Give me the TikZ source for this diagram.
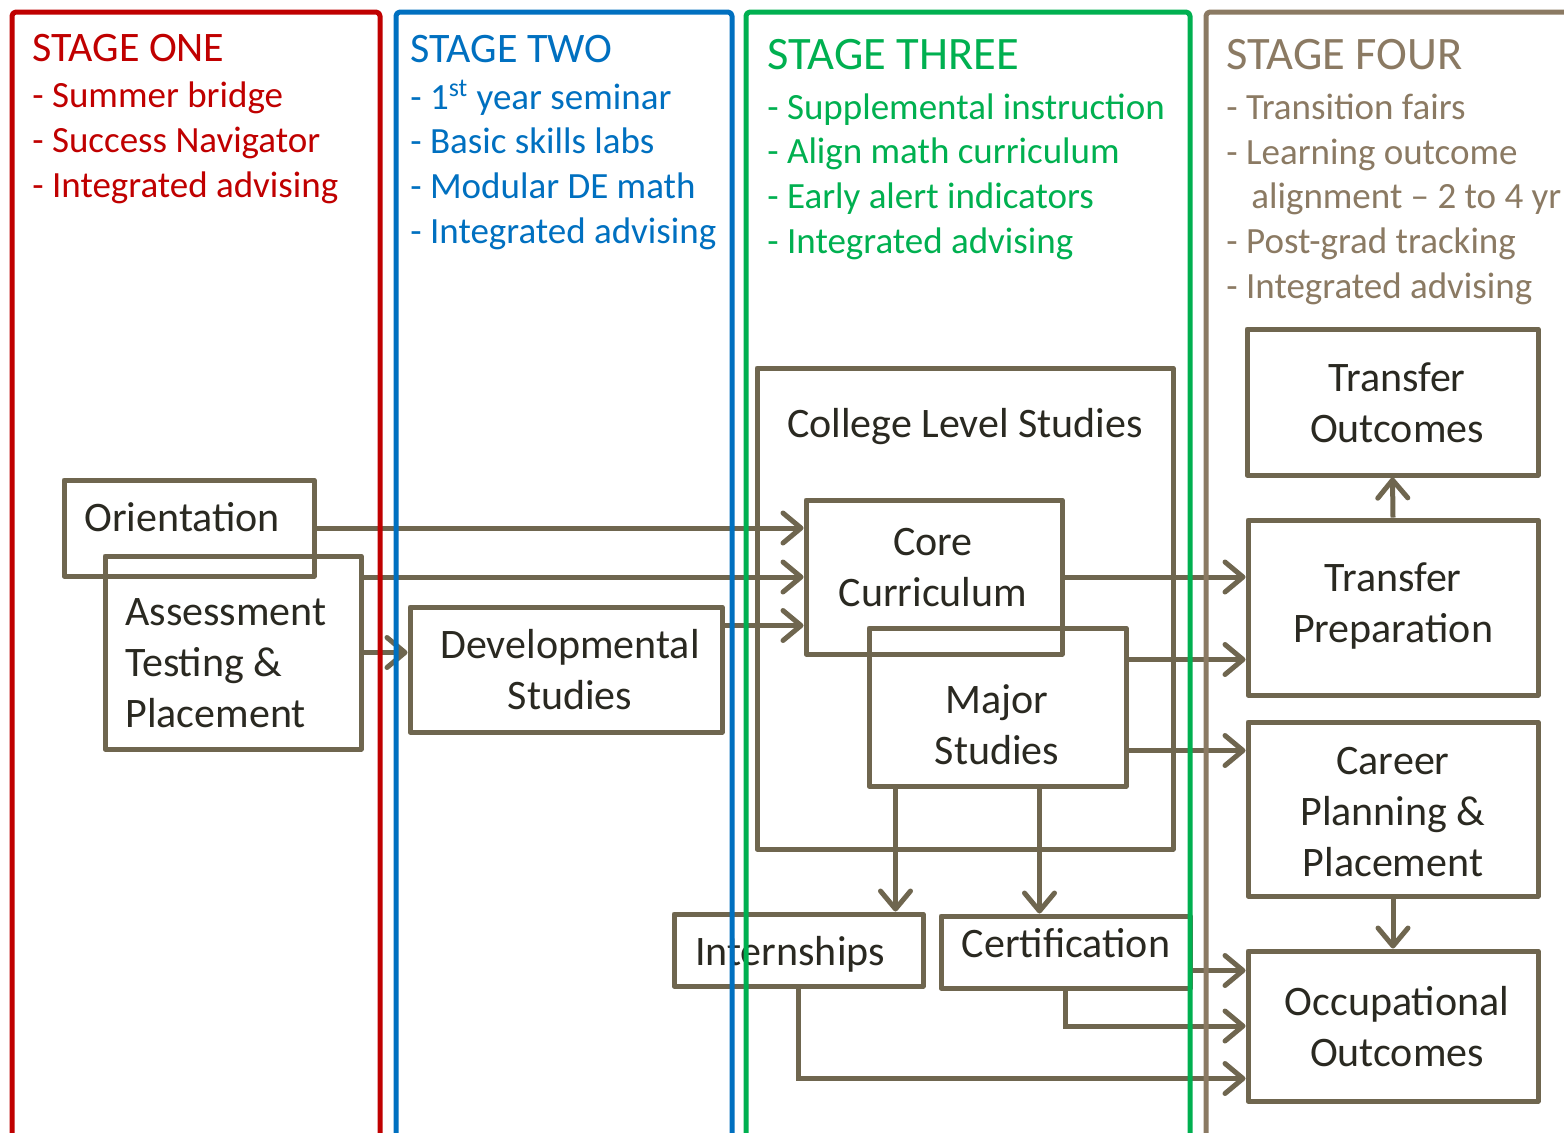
\documentclass[tikz,border=0pt]{standalone}
\usepackage{fontspec}
\setmainfont{Carlito}
\usetikzlibrary{arrows.meta,calc,fit}
\definecolor{redS}{HTML}{C00000}
\definecolor{blueS}{HTML}{0070C0}
\definecolor{greenS}{HTML}{00B050}
\definecolor{tanS}{HTML}{8B7A63}
\definecolor{boxc}{HTML}{6F664F}
\definecolor{txt}{HTML}{2A2921}

\begin{document}
\begin{tikzpicture}[x=0.5pt,y=-0.5pt,
  frame/.style={line width=2.5pt, line join=round, rounded corners=2pt},
  box/.style={draw=boxc, line width=2.5pt, rectangle, inner sep=0pt, line join=round},
  arr/.style={draw=boxc, line width=2.5pt, -{Straight Barb[length=9pt,width=15pt,round]}},
  boxtext/.style={text=txt, font=\fontsize{21}{25.5}\selectfont, align=center, anchor=base, inner sep=0pt},
  boxtextl/.style={boxtext, align=left, anchor=base west},
  stitle/.style={font=\fontsize{21}{25}\selectfont, anchor=base west, inner sep=0pt},
  stitlebig/.style={font=\fontsize{23.25}{27}\selectfont, anchor=base west, inner sep=0pt},
  sitems/.style={font=\fontsize{18.5}{22.3}\selectfont, align=left, anchor=base west, inner sep=0pt},
]
\useasboundingbox (0,0) rectangle (1564,1132);
\fill[white] (0,0) rectangle (1564,1132);

% ---- boxes ----
\node[box, fit={(64,480) (314,576)}] (orient) {};
\node[box, fit={(105,556) (361,749)}] (assess) {};
\node[box, fit={(410,607) (722,732)}] (dev) {};
\node[box, fit={(757,368) (1173,849)}] (college) {};
\node[box, fit={(806,500) (1062,654)}] (core) {};
\node[box, fit={(869,628) (1126,786)}] (major) {};
\node[box, fit={(674,914) (923,986)}] (intern) {};
\node[box, fit={(941,916) (1190,988)}] (cert) {};
\node[box, fit={(1247,329) (1538,475)}] (tout) {};
\node[box, fit={(1248,520) (1538,695)}] (tprep) {};
\node[box, fit={(1248,722) (1538,896)}] (career) {};
\node[box, fit={(1248,951) (1538,1101)}] (occ) {};

% ---- box texts (anchored at the baseline of the last line) ----
\node[boxtextl] at (84,531) {Orientation};
\node[boxtextl] at (125,727.5) {Assessment\\Testing \&\\Placement};
\node[boxtext] at (570,709.5) {Developmental\\Studies};
\node[boxtext] at (965,437.5) {College Level Studies};
\node[boxtext] at (933,606.5) {Core\\Curriculum};
\node[boxtext] at (997,764.5) {Major\\Studies};
\node[boxtext] at (790,965.5) {Internships};
\node[boxtext] at (1066,957.5) {Certification};
\node[boxtext] at (1397,442.5) {Transfer\\Outcomes};
\node[boxtext] at (1393,642.5) {Transfer\\Preparation};
\node[boxtext] at (1393,876.5) {Career\\Planning \&\\Placement};
\node[boxtext] at (1397,1066.5) {Occupational\\Outcomes};

% ---- connectors ----
\draw[arr] (orient.east) -- (orient.east -| core.west);
\draw[arr] (core.west -| assess.east) -- (core.west);
\draw[arr] (assess.east) -- (assess.east -| dev.west);
\draw[arr] ($(dev.north east)+(0,21)$) coordinate (d1) -- (d1 -| core.west);
\draw[arr] (core.east) -- (core.east -| tprep.west);
\draw[arr] ($(major.north east)+(0,34)$) coordinate (m1) -- (m1 -| tprep.west);
\draw[arr] ($(major.south east)+(0,-38)$) coordinate (m2) -- (m2 -| career.west);
\draw[arr] (tprep.north) -- (tout.south);
\draw[arr] (career.south) -- (occ.north);
\draw[arr] ($(major.south west)+(29,0)$) coordinate (m3) -- (m3 |- intern.north);
\draw[arr] ($(major.south west)+(173,0)$) coordinate (m4) -- (m4 |- cert.north);
\draw[arr] ($(cert.south east)+(0,-20)$) coordinate (c1) -- (c1 -| occ.west);
\draw[arr] (cert.south) |- (occ.west);
\draw[arr] (intern.south) |- ($(occ.south west)+(0,-25)$);

% ---- stage texts ----
\node[stitle, text=redS] at (32,61) {STAGE ONE};
\node[sitems, text=redS] at (32,197) {- Summer bridge\\- Success Navigator\\- Integrated advising};
\node[stitle, text=blueS] at (410,62) {STAGE TWO};
\node[sitems, text=blueS] at (410,243) {- 1\textsuperscript{st} year seminar\\- Basic skills labs\\- Modular DE math\\- Integrated advising};
\node[stitlebig, text=greenS] at (767,69) {STAGE THREE};
\node[sitems, text=greenS] at (767,253) {- Supplemental instruction\\- Align math curriculum\\- Early alert indicators\\- Integrated advising};
\node[stitlebig, text=tanS] at (1226,69) {STAGE FOUR};
\node[sitems, text=tanS] at (1226,298) {- Transition fairs\\- Learning outcome\\\hspace*{12.5pt}alignment -- 2 to 4 yr\\- Post-grad tracking\\- Integrated advising};

% ---- stage frames ----
\draw[frame, redS] (12,1140) -- (12,12) -- (380,12) -- (380,1140);
\draw[frame, blueS] (396,1140) -- (396,12) -- (732,12) -- (732,1140);
\draw[frame, greenS] (746,1140) -- (746,12) -- (1190,12) -- (1190,1140);
\draw[frame, tanS] (1206,1140) -- (1206,12) -- (1580,12);
\end{tikzpicture}
\end{document}
